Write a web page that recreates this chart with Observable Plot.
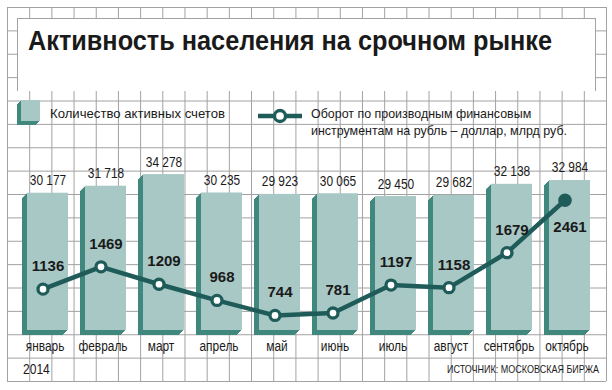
<!DOCTYPE html>
<html><head><meta charset="utf-8">
<script src="https://cdn.jsdelivr.net/npm/d3@7"></script>
<script src="https://cdn.jsdelivr.net/npm/@observablehq/plot@0.6"></script>
<style>
html,body{margin:0;padding:0;background:#fff;}
#wrap{position:relative;width:612px;height:390px;overflow:hidden;}
#wrap > svg, #wrap > div.box{position:absolute;}
#wrap > svg{left:0;top:0;}
</style></head><body><div id="wrap"></div>
<script>
const months = ["январь","февраль","март","апрель","май","июнь","июль","август","сентябрь","октябрь"];
const accounts = [30177,31718,34278,30235,29923,30065,29450,29682,32138,32984];
const turnover = [1136,1469,1209,968,744,781,1197,1158,1679,2461];
const titleText = "Активность населения на срочном рынке";
const legendBars = "Количество активных счетов";
const legendLine = ["Оборот по производным финансовым","инструментам на рубль – доллар, млрд руб."];
const yearText = "2014";
const sourceText = "ИСТОЧНИК: МОСКОВСКАЯ БИРЖА";

const light = "#a8c8c5", dark = "#40877e", lineC = "#1f5c59", gridC = "#a2a2a2";
const sans = "'Liberation Sans',Arial,sans-serif";
const fmt = d3.formatLocale({decimal:",", thousands:" ", grouping:[3], currency:["",""]}).format(",d");
const data = months.map((m,i)=>({month:m, accounts:accounts[i], turnover:turnover[i], label:fmt(accounts[i])}));
const wrap = document.getElementById("wrap");

function condense(root, factor){
  root.querySelectorAll("text").forEach(t=>{
    const l = t.getComputedTextLength();
    t.setAttribute("textLength", (l*factor).toFixed(2));
    t.setAttribute("lengthAdjust","spacingAndGlyphs");
  });
}

// background grid
const gridCols = d3.range(0,28), gridRows = d3.range(0,17);
wrap.appendChild(Plot.plot({
  width:612, height:390, marginLeft:7, marginRight:6, marginTop:7, marginBottom:9,
  x:{domain:[0,27], axis:null}, y:{domain:[0,16], axis:null},
  style:{background:"white"},
  marks:[Plot.ruleX(gridCols,{stroke:gridC}), Plot.ruleY(gridRows,{stroke:gridC})]
}));

// white title box
const box = document.createElement("div");
box.className = "box";
Object.assign(box.style,{left:"17px",top:"18px",width:"579px",height:"73px",background:"white",
  borderLeft:"1px solid "+gridC,borderTop:"1px solid "+gridC,borderRight:"1px solid "+gridC,boxSizing:"border-box"});
wrap.appendChild(box);

const xScale = {type:"band", domain:months, padding:0.286, axis:null};
const W = 612, H = 390, mL = 6.4, mR = 0.8;

// bars
const barPlot = Plot.plot({
  width:W, height:H, marginLeft:mL, marginRight:mR, marginTop:170.8, marginBottom:60,
  x:xScale, y:{domain:[0,35000], axis:null},
  style:{background:"transparent", fontFamily:sans, overflow:"visible"},
  marks:[
    ...[5,4,3,2,1].map(k => Plot.barY(data,{x:"month", y:"accounts", fill:dark, dx:-k, dy:k})),
    Plot.barY(data,{x:"month", y:"accounts", fill:light}),
    Plot.text(data,{x:"month", y:"accounts", text:"label", dy:-8, lineAnchor:"bottom", fontSize:14, fill:"#1a1a1a"}),
    Plot.text(data,{x:"month", frameAnchor:"bottom", text:"month", dy:11, dx:-3, lineAnchor:"top", fontSize:14, fill:"#1a1a1a"})
  ]
});
wrap.appendChild(barPlot);
condense(barPlot, 0.85);

// line
wrap.appendChild(Plot.plot({
  width:W, height:H, marginLeft:mL, marginRight:mR, marginTop:197.1, marginBottom:25.1,
  x:xScale, y:{domain:[0,2500], axis:null},
  style:{background:"transparent", fontFamily:sans, overflow:"visible"},
  marks:[
    Plot.line(data,{x:"month", y:"turnover", stroke:lineC, strokeWidth:4.5, dx:-5}),
    Plot.dot(data,{filter:d=>d.month!=="октябрь", x:"month", y:"turnover", r:5, fill:"white", stroke:lineC, strokeWidth:3.3, dx:-5}),
    Plot.dot(data,{filter:d=>d.month==="октябрь", x:"month", y:"turnover", r:6.8, fill:lineC, dx:-5}),
    Plot.text(data,{filter:d=>d.month!=="октябрь", x:"month", y:"turnover", text:d=>String(d.turnover), dy:-18, lineAnchor:"bottom", fontSize:15, fontWeight:"bold", fill:"#1a1a1a"}),
    Plot.text(data,{filter:d=>d.month==="октябрь", x:"month", y:"turnover", text:d=>String(d.turnover), dy:32, lineAnchor:"bottom", fontSize:15, fontWeight:"bold", fill:"#1a1a1a"})
  ]
}));

// title, legend, footer texts
const svg = d3.select(wrap).append("svg").attr("width",612).attr("height",390);
function addText(x,y,str,size,weight,anchor){
  const t = svg.append("text").attr("x",x).attr("y",y).text(str)
    .attr("font-size",size).attr("font-family",sans).attr("font-weight",weight||"normal").attr("fill","#1a1a1a");
  if (anchor) t.attr("text-anchor",anchor);
  return t;
}
function fit(t,len){ t.attr("textLength",len).attr("lengthAdjust","spacingAndGlyphs"); return t; }
fit(addText(28,50,titleText,27,"bold"),524);
// legend icon (extruded square)
for (const k of [4,3,2,1]) svg.append("rect").attr("x",21-k).attr("y",100+k).attr("width",19).attr("height",21).attr("fill",dark);
svg.append("rect").attr("x",21).attr("y",100).attr("width",19).attr("height",21).attr("fill",light);
fit(addText(50,118,legendBars,13.5),175);
svg.append("line").attr("x1",258).attr("x2",302).attr("y1",116).attr("y2",116).attr("stroke",lineC).attr("stroke-width",4.5);
svg.append("circle").attr("cx",280).attr("cy",116).attr("r",5.5).attr("fill","white").attr("stroke",lineC).attr("stroke-width",3.3);
const l1 = addText(311,118,legendLine[0],13.5), l2 = addText(311,135,legendLine[1],13.5);
const k2 = 256 / l2.node().getComputedTextLength();
fit(l1, l1.node().getComputedTextLength()*k2);
fit(l2, 256);
const yr = addText(23,374,yearText,14);
fit(yr, yr.node().getComputedTextLength()*0.86);
fit(addText(599,373,sourceText,11,"normal","end"),152);
</script></body></html>
